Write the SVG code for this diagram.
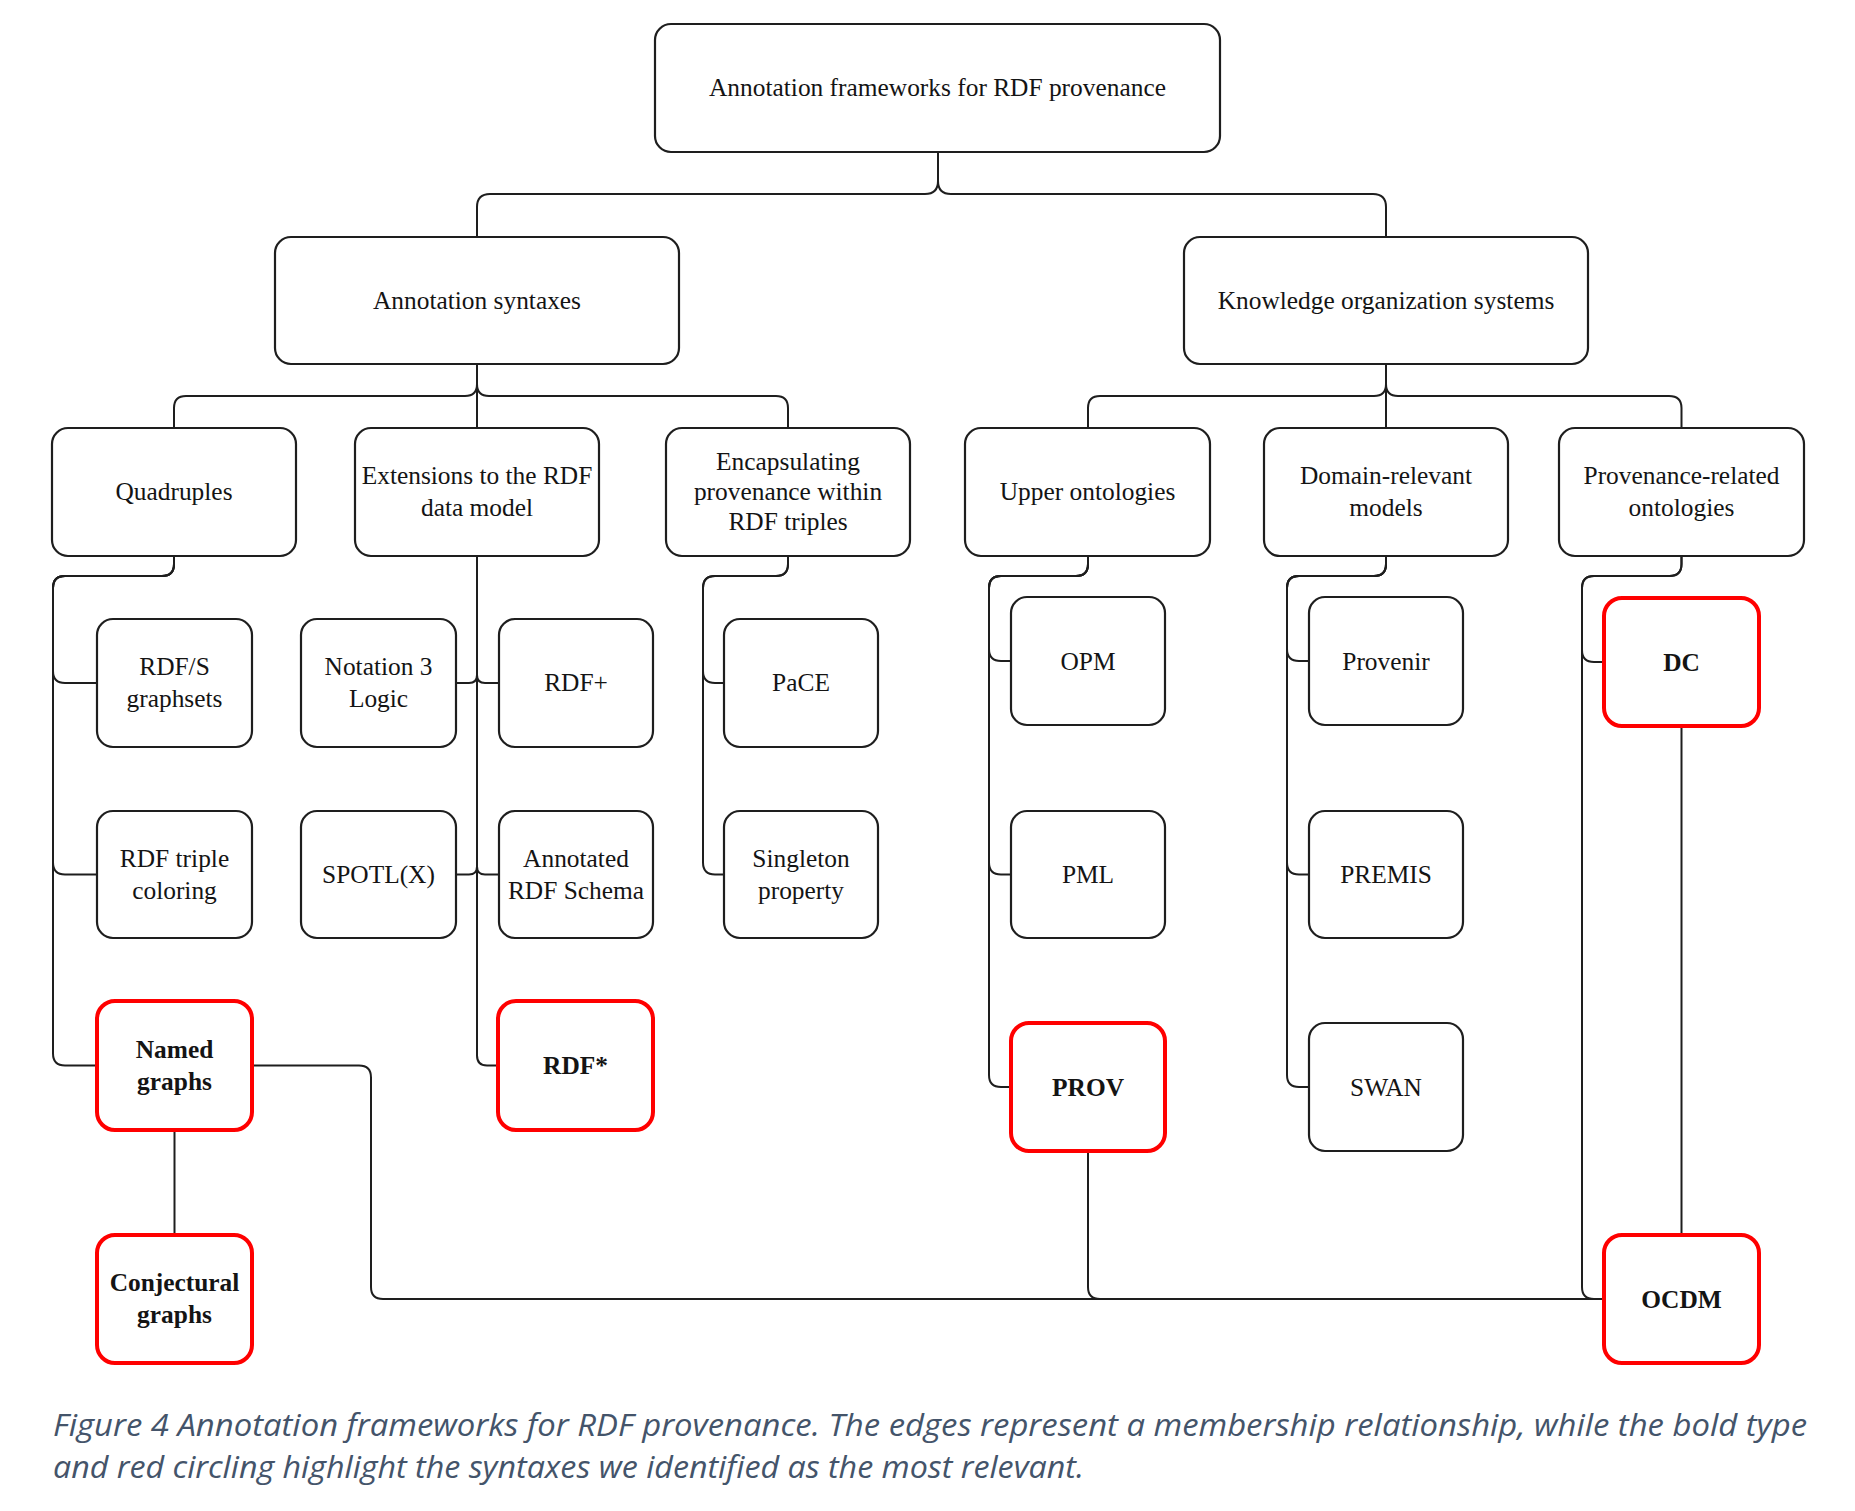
<svg xmlns="http://www.w3.org/2000/svg" width="1855" height="1511" viewBox="0 0 1855 1511">
<style>
.box{fill:#fff;stroke:#1e1e1e;stroke-width:2.2}
.hl{fill:#fff;stroke:#ff0000;stroke-width:4}
.t{font-family:"Liberation Serif","Times New Roman",serif;font-size:25.4px;fill:#141414;text-anchor:middle}
.b{font-weight:bold}
.e{fill:none;stroke:#1e1e1e;stroke-width:2}
.cap{font-family:"Open Sans","Liberation Sans",sans-serif;font-style:italic;font-size:31px;fill:#44546A}
</style>
<rect width="1855" height="1511" fill="#fff"/>
<g id="connectors">
<path class="e" d="M938 152V181Q938 194 925 194H490Q477 194 477 207V237"/>
<path class="e" d="M938 152V181Q938 194 951 194H1373Q1386 194 1386 207V237"/>
<path class="e" d="M477 364V384Q477 396 465 396H186Q174 396 174 408V428"/>
<path class="e" d="M477 364V384Q477 396 489 396H776Q788 396 788 408V428"/>
<path class="e" d="M477 364V428"/>
<path class="e" d="M1386 364V384Q1386 396 1374 396H1100Q1088 396 1088 408V428"/>
<path class="e" d="M1386 364V384Q1386 396 1398 396H1669Q1681.5 396 1681.5 408V428"/>
<path class="e" d="M1386 364V428"/>
<path class="e" d="M174 556V564Q174 576 162 576H65Q53 576 53 588V671Q53 683 65 683H97"/>
<path class="e" d="M174 556V564Q174 576 162 576H65Q53 576 53 588V862.5Q53 874.5 65 874.5H97"/>
<path class="e" d="M174 556V564Q174 576 162 576H65Q53 576 53 588V1053.5Q53 1065.5 65 1065.5H97"/>
<path class="e" d="M477 556V675Q477 683 469 683H456"/>
<path class="e" d="M477 556V675Q477 683 485 683H499"/>
<path class="e" d="M477 556V866.5Q477 874.5 469 874.5H456"/>
<path class="e" d="M477 556V866.5Q477 874.5 485 874.5H499"/>
<path class="e" d="M477 556V1055.5Q477 1065.5 487 1065.5H498"/>
<path class="e" d="M788 556V564Q788 576 776 576H715Q703 576 703 588V671Q703 683 715 683H724"/>
<path class="e" d="M788 556V564Q788 576 776 576H715Q703 576 703 588V862.5Q703 874.5 715 874.5H724"/>
<path class="e" d="M1088 556V564Q1088 576 1076 576H1001Q989 576 989 588V649Q989 661 1001 661H1011"/>
<path class="e" d="M1088 556V564Q1088 576 1076 576H1001Q989 576 989 588V862.5Q989 874.5 1001 874.5H1011"/>
<path class="e" d="M1088 556V564Q1088 576 1076 576H1001Q989 576 989 588V1075Q989 1087 1001 1087H1011"/>
<path class="e" d="M1386 556V564Q1386 576 1374 576H1299Q1287 576 1287 588V649Q1287 661 1299 661H1309"/>
<path class="e" d="M1386 556V564Q1386 576 1374 576H1299Q1287 576 1287 588V862.5Q1287 874.5 1299 874.5H1309"/>
<path class="e" d="M1386 556V564Q1386 576 1374 576H1299Q1287 576 1287 588V1075Q1287 1087 1299 1087H1309"/>
<path class="e" d="M1681.5 556V564Q1681.5 576 1669.5 576H1594Q1582 576 1582 588V650Q1582 662 1594 662H1604"/>
<path class="e" d="M1681.5 556V564Q1681.5 576 1669.5 576H1594Q1582 576 1582 588V1287Q1582 1299 1594 1299H1604"/>
<path class="e" d="M1681.5 726V1235"/>
<path class="e" d="M174.5 1130V1235"/>
<path class="e" d="M252 1065.5H359Q371 1065.5 371 1077.5V1287Q371 1299 383 1299H1604"/>
<path class="e" d="M1088 1151V1287Q1088 1299 1100 1299H1604"/>
</g>
<g id="n-root"><rect class="box" x="655" y="24" width="565" height="128" rx="16"/><text class="t" x="937.5" y="96">Annotation frameworks for RDF provenance</text></g>
<g id="n-syntaxes"><rect class="box" x="275" y="237" width="404" height="127" rx="16"/><text class="t" x="477" y="309">Annotation syntaxes</text></g>
<g id="n-kos"><rect class="box" x="1184" y="237" width="404" height="127" rx="16"/><text class="t" x="1386" y="309">Knowledge organization systems</text></g>
<g id="n-quadruples"><rect class="box" x="52" y="428" width="244" height="128" rx="16"/><text class="t" x="174" y="500">Quadruples</text></g>
<g id="n-extensions"><rect class="box" x="355" y="428" width="244" height="128" rx="16"/><text class="t" x="477" y="484">Extensions to the RDF</text><text class="t" x="477" y="516">data model</text></g>
<g id="n-encapsulating"><rect class="box" x="666" y="428" width="244" height="128" rx="16"/><text class="t" x="788" y="470">Encapsulating</text><text class="t" x="788" y="500">provenance within</text><text class="t" x="788" y="530">RDF triples</text></g>
<g id="n-upper"><rect class="box" x="965" y="428" width="245" height="128" rx="16"/><text class="t" x="1087.5" y="500">Upper ontologies</text></g>
<g id="n-domain"><rect class="box" x="1264" y="428" width="244" height="128" rx="16"/><text class="t" x="1386" y="484">Domain-relevant</text><text class="t" x="1386" y="516">models</text></g>
<g id="n-provrel"><rect class="box" x="1559" y="428" width="245" height="128" rx="16"/><text class="t" x="1681.5" y="484">Provenance-related</text><text class="t" x="1681.5" y="516">ontologies</text></g>
<g id="n-rdfs"><rect class="box" x="97" y="619" width="155" height="128" rx="16"/><text class="t" x="174.5" y="675">RDF/S</text><text class="t" x="174.5" y="707">graphsets</text></g>
<g id="n-coloring"><rect class="box" x="97" y="811" width="155" height="127" rx="16"/><text class="t" x="174.5" y="866.5">RDF triple</text><text class="t" x="174.5" y="898.5">coloring</text></g>
<g id="n-named"><rect class="hl" x="97" y="1001" width="155" height="129" rx="18"/><text class="t b" x="174.5" y="1057.5">Named</text><text class="t b" x="174.5" y="1089.5">graphs</text></g>
<g id="n-conjectural"><rect class="hl" x="97" y="1235" width="155" height="128" rx="18"/><text class="t b" x="174.5" y="1291">Conjectural</text><text class="t b" x="174.5" y="1323">graphs</text></g>
<g id="n-n3"><rect class="box" x="301" y="619" width="155" height="128" rx="16"/><text class="t" x="378.5" y="675">Notation 3</text><text class="t" x="378.5" y="707">Logic</text></g>
<g id="n-spotl"><rect class="box" x="301" y="811" width="155" height="127" rx="16"/><text class="t" x="378.5" y="883">SPOTL(X)</text></g>
<g id="n-rdfplus"><rect class="box" x="499" y="619" width="154" height="128" rx="16"/><text class="t" x="576" y="691">RDF+</text></g>
<g id="n-annotated"><rect class="box" x="499" y="811" width="154" height="127" rx="16"/><text class="t" x="576" y="866.5">Annotated</text><text class="t" x="576" y="898.5">RDF Schema</text></g>
<g id="n-rdfstar"><rect class="hl" x="498" y="1001" width="155" height="129" rx="18"/><text class="t b" x="575.5" y="1074">RDF*</text></g>
<g id="n-pace"><rect class="box" x="724" y="619" width="154" height="128" rx="16"/><text class="t" x="801" y="691">PaCE</text></g>
<g id="n-singleton"><rect class="box" x="724" y="811" width="154" height="127" rx="16"/><text class="t" x="801" y="866.5">Singleton</text><text class="t" x="801" y="898.5">property</text></g>
<g id="n-opm"><rect class="box" x="1011" y="597" width="154" height="128" rx="16"/><text class="t" x="1088" y="669.5">OPM</text></g>
<g id="n-pml"><rect class="box" x="1011" y="811" width="154" height="127" rx="16"/><text class="t" x="1088" y="883">PML</text></g>
<g id="n-prov"><rect class="hl" x="1011" y="1023" width="154" height="128" rx="18"/><text class="t b" x="1088" y="1095.5">PROV</text></g>
<g id="n-provenir"><rect class="box" x="1309" y="597" width="154" height="128" rx="16"/><text class="t" x="1386" y="669.5">Provenir</text></g>
<g id="n-premis"><rect class="box" x="1309" y="811" width="154" height="127" rx="16"/><text class="t" x="1386" y="883">PREMIS</text></g>
<g id="n-swan"><rect class="box" x="1309" y="1023" width="154" height="128" rx="16"/><text class="t" x="1386" y="1095.5">SWAN</text></g>
<g id="n-dc"><rect class="hl" x="1604" y="598" width="155" height="128" rx="18"/><text class="t b" x="1681.5" y="670.5">DC</text></g>
<g id="n-ocdm"><rect class="hl" x="1604" y="1235" width="155" height="128" rx="18"/><text class="t b" x="1681.5" y="1307.5">OCDM</text></g>
<g id="caption">
<text class="cap" x="53" y="1435.5" textLength="1754" lengthAdjust="spacingAndGlyphs">Figure 4 Annotation frameworks for RDF provenance. The edges represent a membership relationship, while the bold type</text>
<text class="cap" x="53" y="1478" textLength="1031" lengthAdjust="spacingAndGlyphs">and red circling highlight the syntaxes we identified as the most relevant.</text>
</g>
</svg>
